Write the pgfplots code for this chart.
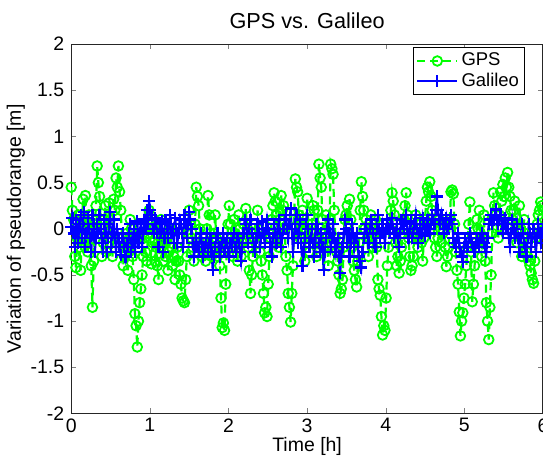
\documentclass[border=0pt]{standalone}
\usepackage{fontspec}
\setmainfont{Liberation Sans}
\usepackage{pgfplots}
\usepackage{pgfplotstable}
\pgfplotsset{compat=1.18}
\definecolor{mgreen}{RGB}{0,255,0}
\definecolor{mblue}{RGB}{0,0,255}

% time [h], GPS and Galileo pseudorange variation [m]
\pgfplotstableread{
t gps gal
0.000 0.45 0.02
0.015 0.20 0.12
0.030 0.10 -0.05
0.045 -0.30 -0.20
0.060 -0.42 0.10
0.075 -0.10 0.00
0.090 0.15 -0.15
0.105 -0.20 0.05
0.120 -0.45 0.15
0.135 0.05 -0.10
0.150 0.32 0.05
0.165 -0.15 0.18
0.180 0.36 -0.20
0.195 0.05 -0.05
0.210 -0.25 0.12
0.225 0.15 0.00
0.240 -0.20 -0.10
0.255 -0.40 -0.25
0.270 -0.85 0.15
0.285 -0.35 0.05
0.300 0.05 -0.25
0.315 0.25 -0.10
0.330 0.68 0.05
0.345 0.50 -0.05
0.360 0.35 0.15
0.375 0.10 0.00
0.390 -0.30 -0.15
0.405 -0.15 -0.25
0.420 0.10 0.10
0.435 0.25 -0.05
0.450 -0.25 -0.25
0.465 -0.05 -0.10
0.480 0.28 0.05
0.495 0.10 0.18
0.510 -0.10 -0.20
0.525 -0.30 -0.05
0.540 0.32 0.10
0.555 0.20 -0.10
0.570 0.55 -0.25
0.585 0.45 0.00
0.600 0.68 -0.10
0.615 0.40 -0.20
0.630 0.20 -0.28
0.645 -0.10 -0.10
0.660 -0.40 -0.05
0.675 -0.30 -0.20
0.690 -0.20 -0.30
0.705 -0.05 -0.15
0.720 -0.45 -0.20
0.735 -0.25 -0.05
0.750 0.10 0.05
0.765 0.00 -0.25
0.780 -0.30 -0.15
0.795 -0.55 0.00
0.810 -0.92 -0.25
0.825 -1.05 -0.10
0.840 -1.28 0.08
0.855 -1.00 -0.15
0.870 -0.80 -0.05
0.885 -0.65 0.05
0.900 -0.50 -0.20
0.915 -0.30 -0.05
0.930 -0.10 0.10
0.945 -0.25 0.00
0.960 -0.35 0.20
0.975 -0.05 0.05
0.990 0.20 0.30
1.005 -0.10 0.20
1.020 -0.38 0.15
1.035 -0.15 0.00
1.050 0.02 -0.05
1.065 -0.35 0.12
1.080 -0.20 0.10
1.095 -0.40 -0.05
1.110 -0.55 -0.20
1.125 -0.20 0.05
1.140 0.10 -0.05
1.155 -0.10 0.08
1.170 -0.35 -0.25
1.185 -0.15 -0.10
1.200 -0.30 0.10
1.215 -0.10 0.00
1.230 -0.45 -0.10
1.245 -0.25 0.05
1.260 0.00 0.15
1.275 -0.20 -0.05
1.290 -0.40 0.00
1.305 -0.30 -0.15
1.320 -0.55 0.12
1.335 -0.35 0.00
1.350 -0.20 -0.15
1.365 -0.35 -0.05
1.380 -0.50 0.10
1.395 -0.60 0.05
1.410 -0.75 -0.05
1.425 -0.78 -0.20
1.440 -0.80 0.15
1.455 -0.55 0.05
1.470 -0.30 -0.10
1.485 -0.05 0.05
1.500 0.20 0.18
1.515 0.05 0.10
1.530 -0.10 0.00
1.545 -0.20 -0.15
1.560 -0.35 -0.30
1.575 0.05 -0.20
1.590 0.45 -0.10
1.605 0.35 -0.20
1.620 0.25 -0.25
1.635 0.00 -0.10
1.650 -0.20 -0.05
1.665 -0.30 -0.20
1.680 -0.10 -0.30
1.695 -0.25 -0.20
1.710 -0.35 -0.15
1.725 0.00 -0.05
1.740 0.36 -0.25
1.755 0.15 -0.15
1.770 -0.05 -0.10
1.785 -0.30 -0.25
1.800 -0.25 -0.45
1.815 -0.05 -0.30
1.830 0.15 -0.20
1.845 -0.10 -0.10
1.860 -0.30 -0.05
1.875 -0.20 -0.20
1.890 -0.40 -0.30
1.905 -0.75 -0.20
1.920 -1.07 -0.15
1.935 -1.02 -0.05
1.950 -1.10 -0.25
1.965 -0.60 -0.15
1.980 -0.20 -0.10
1.995 0.05 -0.25
2.010 0.25 -0.30
2.025 0.05 -0.15
2.040 -0.10 -0.20
2.055 -0.30 -0.10
2.070 0.10 -0.05
2.085 -0.05 -0.20
2.100 -0.15 -0.25
2.115 -0.35 -0.10
2.130 0.15 -0.15
2.145 0.00 -0.25
2.160 -0.30 -0.35
2.175 -0.15 -0.20
2.190 0.05 -0.05
2.205 -0.10 0.10
2.220 0.22 0.05
2.235 0.00 -0.05
2.250 -0.20 -0.15
2.265 -0.45 0.00
2.280 -0.70 0.10
2.295 -0.50 -0.05
2.310 -0.30 -0.10
2.325 -0.10 -0.20
2.340 0.05 -0.25
2.355 -0.15 -0.10
2.370 0.20 0.05
2.385 0.00 -0.05
2.400 -0.25 -0.20
2.415 -0.35 -0.10
2.430 -0.50 0.08
2.445 -0.70 -0.05
2.460 -0.91 -0.15
2.475 -0.85 0.00
2.490 -0.95 0.10
2.505 -0.60 0.00
2.520 -0.30 -0.05
2.535 -0.10 -0.20
2.550 0.10 -0.30
2.565 0.25 -0.10
2.580 0.39 0.05
2.595 0.30 -0.05
2.610 0.15 -0.15
2.625 -0.05 0.00
2.640 -0.20 0.10
2.655 0.10 -0.05
2.670 0.36 -0.20
2.685 0.20 -0.10
2.700 0.25 0.00
2.715 0.00 0.10
2.730 -0.30 0.15
2.745 -0.45 0.00
2.760 -0.70 -0.10
2.775 -0.85 0.05
2.790 -1.01 0.22
2.805 -0.70 0.00
2.820 -0.40 -0.25
2.835 0.10 -0.10
2.850 0.54 0.05
2.865 0.45 0.15
2.880 0.40 -0.15
2.895 0.15 -0.05
2.910 -0.10 0.10
2.925 0.05 -0.15
2.940 0.20 -0.40
2.955 -0.05 -0.25
2.970 -0.35 -0.10
2.985 0.00 0.05
3.000 0.33 0.15
3.015 0.05 0.00
3.030 -0.25 -0.20
3.045 -0.10 -0.10
3.060 0.05 0.00
3.075 0.25 -0.15
3.090 0.20 -0.30
3.105 -0.05 -0.10
3.120 -0.30 0.05
3.135 0.20 0.00
3.150 0.70 -0.15
3.165 0.55 -0.25
3.180 0.45 -0.05
3.195 0.10 -0.20
3.210 -0.20 -0.45
3.225 -0.05 -0.25
3.240 0.15 -0.10
3.255 -0.15 0.00
3.270 -0.40 0.10
3.285 0.10 -0.05
3.300 0.70 -0.20
3.315 0.65 -0.10
3.330 0.59 0.05
3.345 0.20 -0.10
3.360 -0.10 -0.25
3.375 -0.25 -0.15
3.390 -0.35 -0.10
3.405 -0.50 -0.30
3.420 -0.70 -0.48
3.435 -0.65 -0.30
3.450 -0.55 -0.20
3.465 -0.20 -0.05
3.480 0.10 0.10
3.495 0.15 0.00
3.510 0.25 -0.15
3.525 0.05 -0.05
3.540 0.32 -0.30
3.555 0.10 -0.15
3.570 -0.20 0.05
3.585 -0.35 -0.05
3.600 -0.45 -0.20
3.615 -0.55 -0.10
3.630 -0.63 -0.05
3.645 -0.35 -0.20
3.660 -0.15 -0.30
3.675 0.20 -0.35
3.690 0.51 -0.42
3.705 0.35 -0.25
3.720 0.20 -0.10
3.735 0.00 0.00
3.750 0.10 0.05
3.765 -0.10 -0.05
3.780 -0.30 -0.15
3.795 -0.10 0.00
3.810 0.15 0.10
3.825 0.00 0.05
3.840 -0.20 -0.05
3.855 -0.05 -0.15
3.870 0.10 -0.20
3.885 -0.20 0.00
3.900 -0.55 0.15
3.915 -0.65 0.00
3.930 -0.72 -0.10
3.945 -0.95 -0.05
3.960 -1.15 0.05
3.975 -1.05 -0.05
3.990 -1.10 -0.15
4.005 -0.75 0.00
4.020 -0.40 0.10
4.035 -0.20 0.00
4.050 0.00 -0.05
4.065 0.20 0.05
4.080 0.39 0.12
4.095 0.30 0.00
4.110 0.15 -0.10
4.125 -0.15 -0.05
4.140 -0.40 0.05
4.155 -0.30 -0.10
4.170 -0.48 -0.20
4.185 -0.35 -0.05
4.200 -0.20 0.10
4.215 -0.05 0.05
4.230 0.10 0.00
4.245 0.25 0.08
4.260 0.39 0.15
4.275 0.15 0.00
4.290 -0.10 -0.10
4.305 -0.30 0.00
4.320 -0.45 0.08
4.335 -0.40 -0.10
4.350 -0.30 -0.05
4.365 -0.05 0.05
4.380 0.15 0.15
4.395 0.00 0.00
4.410 -0.20 -0.15
4.425 -0.10 -0.05
4.440 0.05 0.05
4.455 -0.15 -0.05
4.470 -0.35 0.12
4.485 -0.10 0.05
4.500 0.10 -0.08
4.515 0.30 0.00
4.530 0.45 0.10
4.545 0.40 0.00
4.560 0.51 -0.05
4.575 0.35 0.05
4.590 0.20 0.15
4.605 0.05 0.10
4.620 -0.10 0.05
4.635 -0.20 0.20
4.650 -0.30 0.35
4.665 -0.10 0.20
4.680 0.10 0.10
4.695 0.00 0.05
4.710 -0.15 0.15
4.725 -0.05 0.05
4.740 0.05 -0.05
4.755 -0.20 0.05
4.770 -0.41 0.12
4.785 -0.30 0.00
4.800 -0.20 0.05
4.815 0.10 0.10
4.830 0.40 0.15
4.845 0.42 0.05
4.860 0.38 -0.10
4.875 0.05 -0.15
4.890 -0.25 -0.20
4.905 -0.45 -0.10
4.920 -0.60 -0.05
4.935 -0.90 -0.15
4.950 -1.16 -0.25
4.965 -1.00 -0.30
4.980 -0.91 -0.36
4.995 -0.75 -0.20
5.010 -0.60 -0.10
5.025 -0.40 -0.15
5.040 -0.20 -0.20
5.055 0.05 -0.10
5.070 0.29 -0.05
5.085 -0.25 -0.10
5.100 -0.79 -0.15
5.115 -0.60 -0.20
5.130 -0.40 -0.25
5.145 -0.15 -0.15
5.160 0.10 -0.10
5.175 0.00 -0.15
5.190 0.20 -0.20
5.205 -0.05 -0.10
5.220 -0.30 -0.05
5.235 -0.10 -0.10
5.250 0.15 -0.15
5.265 -0.35 -0.20
5.280 -0.80 -0.25
5.295 -1.00 -0.10
5.310 -1.20 0.05
5.325 -0.85 0.10
5.340 -0.50 0.15
5.355 -0.05 0.05
5.370 0.39 0.10
5.385 0.25 0.15
5.400 0.15 0.21
5.415 0.00 0.10
5.430 -0.10 0.05
5.445 0.15 0.10
5.460 0.40 0.15
5.475 0.30 0.05
5.490 0.48 -0.05
5.505 0.35 0.05
5.520 0.55 0.12
5.535 0.45 0.00
5.550 0.61 0.05
5.565 0.45 -0.10
5.580 0.35 -0.20
5.595 0.20 -0.05
5.610 0.10 0.10
5.625 0.20 0.00
5.640 0.30 -0.10
5.655 0.05 -0.05
5.670 -0.15 0.05
5.685 0.05 -0.10
5.700 0.25 -0.25
5.715 0.00 -0.10
5.730 -0.30 0.05
5.745 -0.10 -0.05
5.760 0.10 -0.15
5.775 -0.05 -0.20
5.790 -0.25 -0.30
5.805 -0.30 -0.10
5.820 -0.35 0.05
5.835 -0.40 -0.05
5.850 -0.48 -0.20
5.865 -0.55 -0.10
5.880 -0.59 0.00
5.895 -0.35 -0.10
5.910 -0.10 -0.25
5.925 0.05 -0.10
5.940 0.15 0.05
5.955 0.20 -0.05
5.970 0.29 -0.15
5.985 0.25 -0.05
6.000 0.20 0.00
}\pvdata

\begin{document}
\begin{tikzpicture}[trim axis right]
\begin{axis}[
    scale only axis,
    width=235pt,
    height=184pt,
    xmin=0, xmax=6,
    ymin=-2, ymax=2,
    xtick={0,1,2,3,4,5,6},
    ytick={-2,-1.5,-1,-0.5,0,0.5,1,1.5,2},
    tick align=inside,
    major tick length=2.5pt,
    axis line style={black!85, line width=0.5pt},
    font=\fontsize{9.7}{11}\selectfont,
    /pgf/number format/assume math mode=true,
    xticklabel style={yshift=1pt},
    title={GPS vs. Galileo},
    title style={font=\fontsize{10.8}{12}\selectfont, text height=11pt, yshift=-2pt},
    xlabel={Time [h]},
    xlabel style={yshift=4.5pt},
    ylabel={Variation of pseudorange [m]},
    ylabel style={yshift=-4pt},
    legend cell align=left,
    legend style={at={(1,1)}, anchor=north east, xshift=-9pt, yshift=-1.5pt,
        draw=black, line width=0.5pt, inner sep=1.2pt, row sep=-1pt,
        nodes={inner sep=1.5pt},
        font=\fontsize{9.2}{11}\selectfont},
    legend image code/.code={
        \draw[mark repeat=2, mark phase=2, #1] plot coordinates {(0pt,0pt) (10pt,0pt) (20pt,0pt)};
    },
]
\addplot[mgreen, line width=1.1pt, dash pattern=on 4pt off 2.5pt,
    mark=o, mark size=2.4pt, mark options={solid, line width=0.9pt}]
    table[x=t, y=gps] {\pvdata};
\addlegendentry{GPS}
\addplot[mblue, line width=1.1pt, mark=+, mark size=3pt,
    mark options={line width=1.1pt}]
    table[x=t, y=gal] {\pvdata};
\addlegendentry{Galileo}
\end{axis}
\end{tikzpicture}
\end{document}
